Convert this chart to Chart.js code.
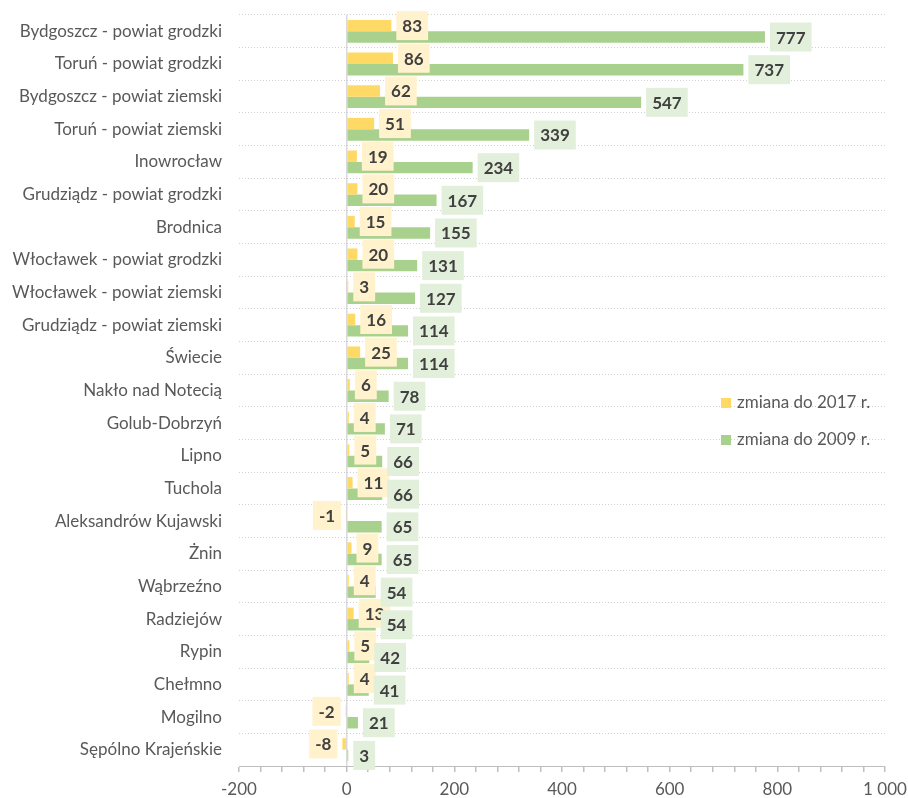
<!DOCTYPE html>
<html>
<head>
<meta charset="utf-8">
<script src="https://cdn.jsdelivr.net/npm/chart.js@4/dist/chart.umd.min.js"></script>
<style>
  html, body { margin: 0; padding: 0; background: #fff; }
  #wrap { width: 908px; height: 798px; }
</style>
</head>
<body>
<div id="wrap"><canvas id="powiatyChart" width="908" height="798"></canvas></div>
<script>
const powiaty = [
  'Bydgoszcz - powiat grodzki', 'Toruń - powiat grodzki', 'Bydgoszcz - powiat ziemski',
  'Toruń - powiat ziemski', 'Inowrocław', 'Grudziądz - powiat grodzki', 'Brodnica',
  'Włocławek - powiat grodzki', 'Włocławek - powiat ziemski', 'Grudziądz - powiat ziemski',
  'Świecie', 'Nakło nad Notecią', 'Golub-Dobrzyń', 'Lipno', 'Tuchola',
  'Aleksandrów Kujawski', 'Żnin', 'Wąbrzeźno', 'Radziejów', 'Rypin', 'Chełmno',
  'Mogilno', 'Sępólno Krajeńskie'
];
const zmiana2017 = [83, 86, 62, 51, 19, 20, 15, 20, 3, 16, 25, 6, 4, 5, 11, -1, 9, 4, 13, 5, 4, -2, -8];
const zmiana2009 = [777, 737, 547, 339, 234, 167, 155, 131, 127, 114, 114, 78, 71, 66, 66, 65, 65, 54, 54, 42, 41, 21, 3];
const xMin = -200;
const xMax = 1000;
const xStep = 40;

const FONT = 'Lato, "Liberation Sans", sans-serif';
const TXT = '#595959';

function formatNumber(v) {
  const s = String(Math.abs(v)).replace(/\B(?=(\d{3})+(?!\d))/g, ' ');
  return (v < 0 ? '-' : '') + s;
}

// etykiety wartosci z tlem, jak w Excelu
const barLabels = {
  id: 'barLabels',
  afterDatasetsDraw(chart) {
    const ctx = chart.ctx;
    ctx.save();
    ctx.font = 'bold 17px ' + FONT;
    ctx.textAlign = 'center';
    ctx.textBaseline = 'middle';
    chart.data.datasets.forEach((ds, i) => {
      const meta = chart.getDatasetMeta(i);
      meta.data.forEach((bar, j) => {
        const v = ds.data[j];
        const txt = formatNumber(v);
        const w = ctx.measureText(txt).width + 12;
        const h = 29;
        const left = v >= 0 ? bar.x + 5 : bar.x - 5 - w;
        ctx.fillStyle = ds.labelBg;
        ctx.fillRect(left, bar.y - h / 2, w, h);
        ctx.fillStyle = '#404040';
        ctx.fillText(txt, left + w / 2, bar.y + 1);
      });
    });
    ctx.restore();
  }
};

// legenda wewnatrz obszaru wykresu
const insideLegend = {
  id: 'insideLegend',
  afterDraw(chart) {
    const ctx = chart.ctx;
    ctx.save();
    ctx.font = '17px ' + FONT;
    ctx.textBaseline = 'middle';
    ctx.textAlign = 'left';
    chart.data.datasets.forEach((ds, i) => {
      const y = 403 + i * 37;
      ctx.fillStyle = ds.backgroundColor;
      ctx.fillRect(721, y - 5, 10, 10);
      ctx.fillStyle = TXT;
      ctx.fillText(ds.label, 737, y);
    });
    ctx.restore();
  }
};

const ctx = document.getElementById('powiatyChart');
new Chart(ctx, {
  type: 'bar',
  data: {
    labels: powiaty,
    datasets: [
      { label: 'zmiana do 2017 r.', data: zmiana2017, backgroundColor: '#FFD966', labelBg: '#FFF2CC' },
      { label: 'zmiana do 2009 r.', data: zmiana2009, backgroundColor: '#A9D18E', labelBg: '#E2EFDA' }
    ]
  },
  options: {
    indexAxis: 'y',
    responsive: false,
    animation: false,
    categoryPercentage: 0.7,
    barPercentage: 1,
    layout: { padding: { top: 15, right: 23, left: 0, bottom: 0 } },
    plugins: { legend: { display: false }, tooltip: { enabled: false } },
    scales: {
      x: {
        min: xMin,
        max: xMax,
        ticks: {
          stepSize: xStep,
          autoSkip: false,
          maxRotation: 0,
          padding: 7,
          color: TXT,
          font: { family: FONT, size: 17 },
          callback: v => (v % 200 === 0 ? formatNumber(v) : '')
        },
        grid: {
          color: c => (c.tick && c.tick.value === 0 ? '#d9d9d9' : 'rgba(0,0,0,0)'),
          lineWidth: 1.5,
          tickColor: '#bfbfbf',
          tickLength: 6
        },
        border: { display: true, color: '#bfbfbf', width: 1 },
        afterFit: scale => {
          scale.height = 32;
          scale.paddingLeft = 0;
          scale.paddingRight = 0;
        }
      },
      y: {
        ticks: {
          padding: 17,
          color: TXT,
          font: { family: FONT, size: 17 }
        },
        grid: { color: '#d0d0d0', drawTicks: false, lineWidth: 1 },
        border: { display: false, dash: [1, 2] },
        afterFit: scale => {
          scale.width = 239;
          scale.paddingTop = 0;
          scale.paddingBottom = 0;
        }
      }
    }
  },
  plugins: [barLabels, insideLegend]
});
</script>
</body>
</html>
